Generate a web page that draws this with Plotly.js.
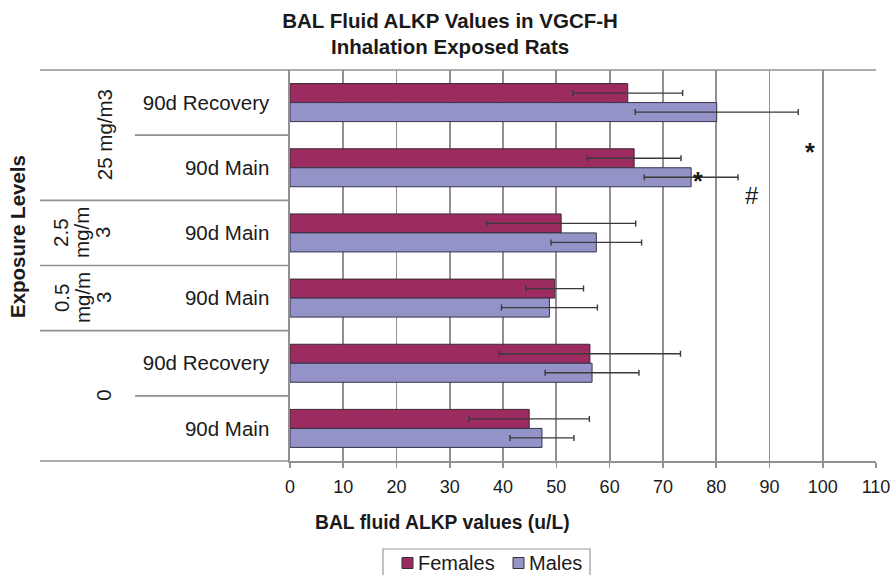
<!DOCTYPE html>
<html>
<head>
<meta charset="utf-8">
<script src="https://cdn.plot.ly/plotly-3.0.1.min.js"></script>
<style>
  html, body { margin: 0; padding: 0; background: #fff; }
  #chart { width: 893px; height: 575px; }
</style>
</head>
<body>
<div id="chart"></div>
<script>
// Exposure groups and study phases, listed from the top row to the bottom row
const groups  = ["25 mg/m3", "25 mg/m3", "2.5 mg/m3", "0.5 mg/m3", "0", "0"];
// Wrapped group labels, one entry per printed line
const groupLines = {
  "25 mg/m3": ["25 mg/m3"],
  "2.5 mg/m3": ["2.5", "mg/m", "3"],
  "0.5 mg/m3": ["0.5", "mg/m", "3"],
  "0": ["0"]
};
const studies = ["90d Recovery", "90d Main", "90d Main", "90d Main", "90d Recovery", "90d Main"];

// Mean BAL fluid ALKP (u/L) and error (±)
const females    = [63.4, 64.6, 50.9, 49.7, 56.3, 44.9];
const femalesErr = [10.3,  8.8, 14.0,  5.4, 17.0, 11.3];
const males      = [80.1, 75.3, 57.5, 48.7, 56.7, 47.3];
const malesErr   = [15.3,  8.8,  8.5,  9.0,  8.8,  6.0];

// Significance markers: symbol, x value (u/L), row position
const sigText = ["*", "*", "#"];
const sigX    = [76.6, 97.7, 86.8];
const sigRow  = [1.20, 0.76, 1.43];

const xTicks = [0, 10, 20, 30, 40, 50, 60, 70, 80, 90, 100, 110];

const FONT = "Liberation Sans, Arial, Helvetica, sans-serif";
const GRID = "#959090";
const INK  = "#1a1a1a";
const FEMALE_COLOR = "#9c2b60";
const MALE_COLOR   = "#9393c8";

const rowKeys = groups.map((g, i) => g + " | " + studies[i]);

const errStyle = { type: "data", visible: true, color: "#3a3a3a", thickness: 1.4, width: 3 };

const traces = [
  {
    type: "bar", orientation: "h", name: "Females",
    y: rowKeys, x: females,
    error_x: Object.assign({ array: femalesErr }, errStyle),
    marker: { color: FEMALE_COLOR, line: { color: "#3a2a35", width: 1 } },
    hoverinfo: "x+name"
  },
  {
    type: "bar", orientation: "h", name: "Males",
    y: rowKeys, x: males,
    error_x: Object.assign({ array: malesErr }, errStyle),
    marker: { color: MALE_COLOR, line: { color: "#33334a", width: 1 } },
    hoverinfo: "x+name"
  }
];

// Plot box in pixels, used to place items in the margins
const M = { l: 290, r: 17, t: 70, b: 114 };
const W = 893, H = 575;
const PW = W - M.l - M.r, PH = H - M.t - M.b;
const px2x = p => (p - M.l) / PW;
const px2y = p => (H - M.b - p) / PH;

// Divider lines in the label column: long ones between exposure groups,
// short ones between phases within the same group
const shapes = [];
const LONG_X0 = px2x(40), SHORT_X0 = px2x(135);
const lineStyle = { color: GRID, width: 1.6 };
shapes.push({ type: "line", xref: "paper", yref: "paper", x0: LONG_X0, x1: 1, y0: 1, y1: 1, line: lineStyle });
shapes.push({ type: "line", xref: "paper", yref: "paper", x0: LONG_X0, x1: 0, y0: 0, y1: 0, line: lineStyle });
for (let i = 0; i < groups.length - 1; i++) {
  const same = groups[i] === groups[i + 1];
  shapes.push({
    type: "line", xref: "paper", yref: "y",
    x0: same ? SHORT_X0 : LONG_X0, x1: 0, y0: i + 0.5, y1: i + 0.5,
    line: lineStyle
  });
}

const annotations = [];
// Rotated exposure-group labels, centred on the rows of each group;
// wrapped lines stack leftwards from the column next to the phase labels
const GROUP_COL_X = 103, GROUP_LINE_STEP = 21;
const seen = {};
groups.forEach((g, i) => {
  if (seen[g]) return;
  let last = i;
  while (last + 1 < groups.length && groups[last + 1] === g) last++;
  seen[g] = true;
  const lines = groupLines[g];
  lines.forEach((ln, k) => {
    const cx = GROUP_COL_X - (lines.length - 1 - k) * GROUP_LINE_STEP + (lines.length === 1 ? 1 : 0);
    annotations.push({
      text: ln, xref: "paper", yref: "y",
      x: px2x(cx), y: (i + last) / 2, xanchor: "center", yanchor: "middle",
      textangle: -90, showarrow: false,
      font: { family: FONT, size: 20.5, color: INK }
    });
  });
});

// Axis titles
annotations.push({
  text: "<b>Exposure Levels</b>", xref: "paper", yref: "paper",
  x: px2x(17), y: px2y(237), xanchor: "center", yanchor: "middle",
  textangle: -90, showarrow: false,
  font: { family: FONT, size: 20.5, color: INK }
});
annotations.push({
  text: "<b>BAL fluid ALKP values (u/L)</b>", xref: "paper", yref: "paper",
  x: px2x(442), y: px2y(522), xanchor: "center", yanchor: "middle",
  showarrow: false,
  font: { family: FONT, size: 19.3, color: INK }
});

// Significance markers
sigText.forEach((t, i) => {
  annotations.push({
    text: t === "*" ? "<b>*</b>" : t, xref: "x", yref: "y", x: sigX[i], y: sigRow[i],
    xanchor: "center", yanchor: "middle", showarrow: false,
    font: { family: FONT, size: t === "*" ? 25 : 24, color: INK }
  });
});

// Legend box below the axis title, one swatch and name per series
const legendLeft = 383, legendRight = 590, legendTop = 549, legendMid = 563;
shapes.push({
  type: "rect", xref: "paper", yref: "paper",
  x0: px2x(legendLeft), x1: px2x(legendRight), y0: px2y(legendTop), y1: px2y(legendTop + 34),
  line: { color: "#999999", width: 1.2 }, fillcolor: "rgba(0,0,0,0)"
});
const legendSwatchX = [402, 513];
traces.forEach((tr, i) => {
  const sx = legendSwatchX[i];
  shapes.push({
    type: "rect", xref: "paper", yref: "paper",
    x0: px2x(sx), x1: px2x(sx + 11), y0: px2y(legendMid - 5.5), y1: px2y(legendMid + 5.5),
    line: { color: "#333333", width: 1 }, fillcolor: tr.marker.color
  });
  annotations.push({
    text: tr.name, xref: "paper", yref: "paper",
    x: px2x(sx + 14), y: px2y(legendMid), xanchor: "left", yanchor: "middle",
    showarrow: false, font: { family: FONT, size: 20, color: INK }
  });
});

const layout = {
  width: W, height: H,
  margin: M,
  paper_bgcolor: "#ffffff", plot_bgcolor: "#ffffff",
  font: { family: FONT, color: INK },
  title: {
    text: "<b>BAL Fluid ALKP Values in VGCF-H<br>Inhalation Exposed Rats</b>",
    font: { family: FONT, size: 20.5, color: INK },
    x: 0.504, xanchor: "center", xref: "container",
    y: 0.952, yanchor: "top", yref: "container"
  },
  barmode: "group", bargap: 0.417, bargroupgap: 0,
  xaxis: {
    range: [0, 110], tickvals: xTicks, ticktext: xTicks.map(String),
    showgrid: true, gridcolor: GRID, gridwidth: 1.8,
    showline: true, linecolor: GRID, linewidth: 1.6,
    ticks: "outside", ticklen: 5, tickcolor: GRID, tickwidth: 1.6,
    ticklabelstandoff: 4,
    tickfont: { family: FONT, size: 18, color: INK },
    zeroline: false, fixedrange: true
  },
  yaxis: {
    type: "category", categoryorder: "array", categoryarray: rowKeys,
    range: [groups.length - 0.5, -0.5],
    tickvals: rowKeys, ticktext: studies,
    showgrid: false, zeroline: false,
    showline: true, linecolor: GRID, linewidth: 1.6,
    ticks: "", ticklabelstandoff: 15,
    tickfont: { family: FONT, size: 20.5, color: INK },
    fixedrange: true
  },
  showlegend: false,
  shapes: shapes,
  annotations: annotations
};

Plotly.newPlot("chart", traces, layout, { displayModeBar: false, staticPlot: true });
</script>
</body>
</html>
